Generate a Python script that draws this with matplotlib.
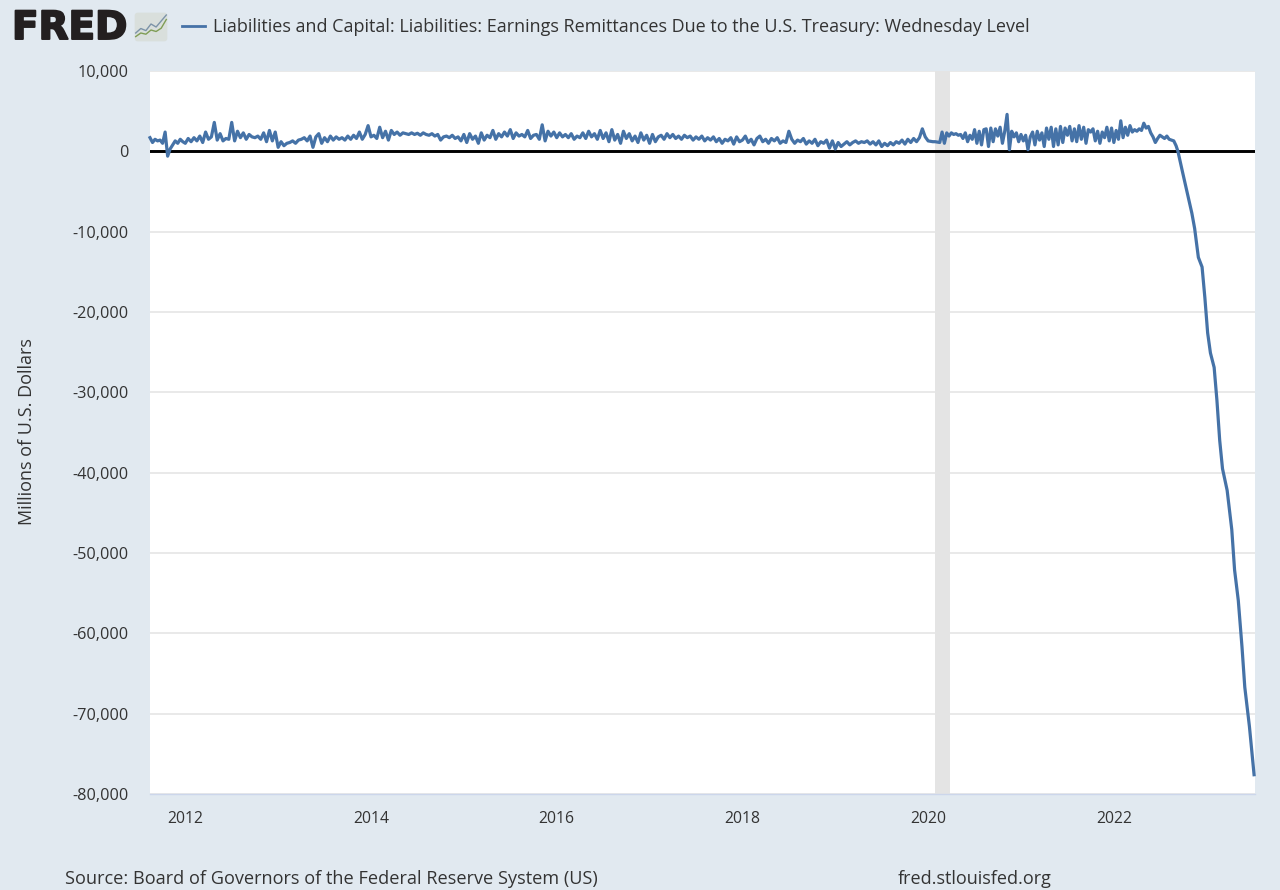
import numpy as np
import matplotlib
matplotlib.use("Agg")
import matplotlib.pyplot as plt
import matplotlib.patheffects as pe
from matplotlib.patches import FancyBboxPatch

plt.rcParams['font.family'] = ['Open Sans', 'DejaVu Sans']

v2011 = [1700,1100,1500,1300,1400,1000,2400,-600,300,800,1300,1000,1500,1200]
v2012 = [1000,1600,1200,1700,1300,1900,1100,2400,1500,1800,3600,1400,2200,1300,1600,1500,3600,1300,2500,1700,2300,1500,2100,1800,1700,1900,1500,2300,1200,2600,1300,2400]
v2013 = [500,1200,700,1000,1100,1300,1000,1400,1500,1700,1300,1900,500,1800,2200,1000,1700,1200,1900,1400,1800,1500,1700,1400,1900,1500,2000,1600,2400,1500,2100,3200]
v2014 = [1800,2000,1600,3000,1700,2500,1400,2600,2100,2400,2000,2300,2200,2100,2300,2100,2250,2000,2300,2100,2000,2200,1900,2100,1400,1800,1900,1700,2000,1600,1800,1300]
v2015 = [2100,1100,2200,1500,1900,1000,2300,1400,2000,1700,2600,1500,2200,1800,2400,1900,2700,1600,2300,1900,2100,1800,2600,1600,2000,2100,1500,3300,1300,2500,1900,2400]
v2016 = [1700,2300,1800,2100,1700,2200,1500,1900,1700,2300,1600,2500,1800,2200,1500,2600,1600,2300,1200,2700,1400,2100,1000,2500,1600,2200,1300,1900,1100,2300,1400,2000]
v2017 = [1000,2100,1200,1800,2000,1500,2200,1700,2100,1600,1900,1500,2000,1700,1900,1400,1800,1500,1900,1300,1700,1400,1800,1200,1600,1000,1500,1300,1700,900,1800,1200]
v2018 = [1400,1900,1100,1500,800,1600,1900,1200,1500,1000,1600,1300,1700,1000,1300,1100,2500,1500,1000,1400,1200,1600,900,1300,1000,1500,700,1200,1000,1400,400,1300]
v2019 = [300,1100,600,900,1200,800,1100,1300,1000,1200,1100,1300,900,1200,800,1300,600,1000,700,1100,800,1200,1000,1400,900,1500,1100,1600,1200,1700,2800,1800]
v2020 = [1300,1250,1200,1200,1150,1100,2400,1000,2300,1900,2300,2100,2200,2000,2100,1600,2300,1200,2000,1500,2700,1000,2500,800,2700,2800,600,2900,1200,2800,1900,3000,1000,2500,4600,200,2500,1800,2300,1200]
v2021 = [2100,1300,2000,200,1800,2400,800,2500,1400,2300,600,2900,1500,3000,600,2800,800,3100,1100,2900,2000,3100,1300,2800,1200,3200,1500,3000,1000,2700,2400,2800,1300,2500,1000,2400,1700,3000,1300,2900]
v2022 = [1100,2600,1500,3800,1700,3000,2000,3200,2400,2700,2500,2800,2600,3500,2900,3100,2300,1800,1100,1600,2000,1800,1600,1900,1500,1400,1300]
decline_dates = [2022.67,2022.69,2022.74,2022.84,2022.87,2022.91,2022.95,2022.98,2023.01,2023.04,2023.08,2023.11,2023.14,2023.17,2023.22,2023.27,2023.30,2023.34,2023.38,2023.41,2023.46,2023.51]
decline_vals = [700,0,-2600,-7700,-9600,-13200,-14400,-18200,-22600,-25100,-26900,-31000,-36000,-39500,-42200,-47100,-52100,-55900,-61700,-66700,-71600,-77600]

segments = [(2011.62,2012.0,v2011),(2012.0,2013.0,v2012),(2013.0,2014.0,v2013),(2014.0,2015.0,v2014),
            (2015.0,2016.0,v2015),(2016.0,2017.0,v2016),(2017.0,2018.0,v2017),(2018.0,2019.0,v2018),
            (2019.0,2020.0,v2019),(2020.0,2021.0,v2020),(2021.0,2022.0,v2021),(2022.0,2022.67,v2022)]
dates = np.concatenate([np.linspace(a,b,len(v),endpoint=False) for a,b,v in segments]+[decline_dates])
values = np.concatenate([v for _,_,v in segments]+[decline_vals])

yticks = list(range(-80000,10001,10000))
xticks = [2012,2014,2016,2018,2020,2022]
recession = (2020.07,2020.24)
title = "Liabilities and Capital: Liabilities: Earnings Remittances Due to the U.S. Treasury: Wednesday Level"
BG = '#e1e9f0'; TXT = '#333333'; LINE = '#4572a7'

W,H = 1280,890
fig = plt.figure(figsize=(W/100,H/100),dpi=100,facecolor=BG)
ax = fig.add_axes([150/W,1-794/H,1105/W,723/H],facecolor='white')
ax.set_xlim(2011.62,2023.52); ax.set_ylim(-80000,10000)
ax.set_yticks(yticks); ax.set_xticks(xticks)
ax.set_yticklabels([f"{t:,}" for t in yticks],fontsize=11.7,color=TXT)
ax.set_xticklabels([str(t) for t in xticks],fontsize=11.3,color=TXT)
ax.tick_params(length=0,axis='y',pad=15.5)
ax.tick_params(length=0,axis='x',pad=12)
ax.grid(axis='y',color='#e9e9e9',lw=1.4); ax.set_axisbelow(True)
for s in ['top','left','right']: ax.spines[s].set_visible(False)
ax.spines['bottom'].set_color('#ccd6eb'); ax.spines['bottom'].set_linewidth(1)
ax.axvspan(*recession,color='#e4e4e4',lw=0,zorder=1)
ax.axhline(0,color='black',lw=2.1,zorder=2)
ax.plot(dates,values,color=LINE,lw=2.3,zorder=3,solid_joinstyle='round',clip_on=False)
ax.set_ylabel("Millions of U.S. Dollars",fontsize=13,color=TXT)
ax.yaxis.set_label_coords((36-150)/1105,(794-432)/723)

fig.text(12/W,1-28/H,"FRED",fontsize=28,fontweight='bold',family=['DejaVu Sans'],color='#231f20',va='center',ha='left',
         path_effects=[pe.withStroke(linewidth=1.4,foreground='#231f20')])

# small logo icon
ic = fig.add_axes([134/W,1-42/H,34/W,30/H]); ic.axis('off')
ic.set_xlim(0,10); ic.set_ylim(0,10)
ic.add_patch(FancyBboxPatch((0.2,0.2),9.6,9.6,boxstyle='round,pad=0,rounding_size=1',fc='#d9dfdc',ec='none'))
ic.plot([0.5,2,3.5,5,6.5,8,9.5],[3,4.5,3.8,6,5,7,9],color='#7c93a8',lw=1)
ic.plot([0.5,2,3.5,5,6.5,8,9.5],[1.8,3,2.6,4,3.5,4.6,7.5],color='#7f9d55',lw=1)

fig.add_artist(plt.Line2D([182/W,205/W],[1-26/H,1-26/H],color=LINE,lw=2))
fig.text(213/W,1-27/H,title,fontsize=12.96,color=TXT,va='center',ha='left')
fig.text(65/W,1-879/H,"Source: Board of Governors of the Federal Reserve System (US)",fontsize=13.05,color=TXT,va='center',ha='left')
fig.text(898/W,1-879/H,"fred.stlouisfed.org",fontsize=13,color=TXT,va='center',ha='left')

fig.savefig('out.png',dpi=100,facecolor=BG)
